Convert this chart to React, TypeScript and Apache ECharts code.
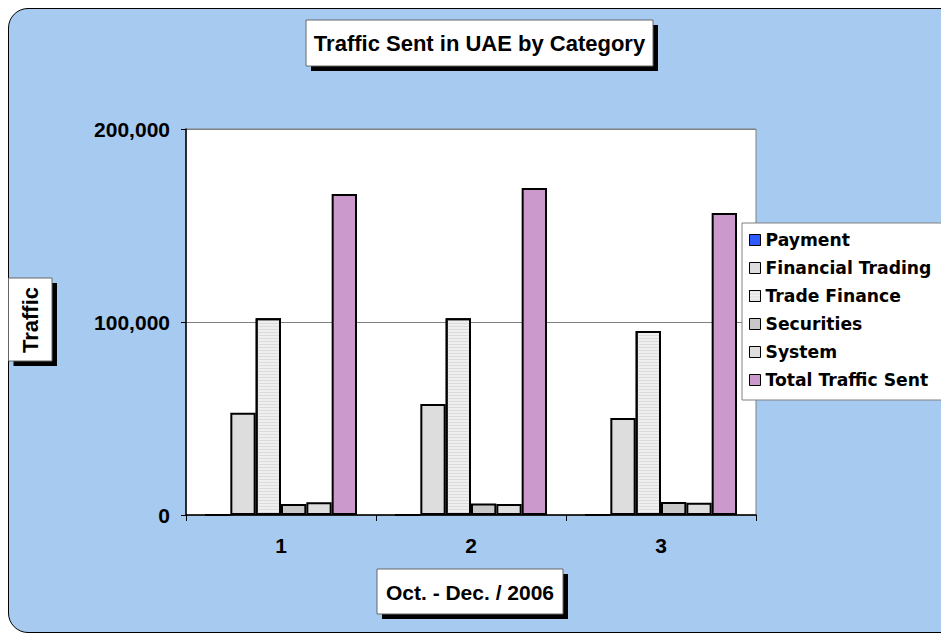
import React, { useEffect, useRef } from "react";
import * as echarts from "echarts";

const categories = ["1", "2", "3"];
const seriesNames = ["Payment", "Financial Trading", "Trade Finance", "Securities", "System", "Total Traffic Sent"];
const payment = [0, 0, 0];
const financialTrading = [53000, 57500, 50300];
const tradeFinance = [102000, 102000, 95300];
const securities = [5700, 6000, 6700];
const system = [6600, 5700, 6400];
const totalTrafficSent = [166300, 169400, 156500];
const seriesColors = ["#2E5BFF", "#DDDDDD", "#EFEFEF", "#C8C8C8", "#DEDEDE", "#CC99CC"];

const titleText = "Traffic Sent in UAE by Category";
const yAxisName = "Traffic";
const xAxisName = "Oct. - Dec. / 2006";

const FONT = "Arial, 'Liberation Sans', sans-serif";

export default function App() {
  const ref = useRef<HTMLDivElement>(null);
  useEffect(() => {
    document.documentElement.style.overflow = "hidden";
    if (!ref.current) return;
    const chart = echarts.init(ref.current, undefined, { renderer: "svg" });
    const allData = [payment, financialTrading, tradeFinance, securities, system, totalTrafficSent];
    const boxWithShadow = (x: number, y: number, w: number, h: number, z: number) => [
      { type: "rect", z, shape: { x: x + 5, y: y + 5, width: w, height: h }, style: { fill: "#000" } },
      { type: "rect", z: z + 1, shape: { x, y, width: w, height: h }, style: { fill: "#fff", stroke: "#666", lineWidth: 1 } },
    ];
    const label = (text: string, x: number, y: number, size: number, z: number, rotation = 0) => ({
      type: "text",
      z,
      x,
      y,
      rotation,
      style: {
        text,
        font: `bold ${size}px ${FONT}`,
        fill: "#000",
        align: "center",
        verticalAlign: "middle",
        textAlign: "center",
        textVerticalAlign: "middle",
      },
    });
    chart.setOption({
      animation: false,
      backgroundColor: "transparent",
      grid: {
        left: 178,
        top: 121,
        width: 570,
        height: 386,
        show: true,
        backgroundColor: "#fff",
        borderColor: "#808080",
        borderWidth: 1,
        containLabel: false,
      },
      legend: {
        orient: "vertical",
        left: 741,
        top: 223,
        padding: 0,
        itemWidth: 11,
        itemHeight: 11,
        itemGap: 10,
        icon: "rect",
        itemStyle: { borderColor: "#000", borderWidth: 1 },
        textStyle: { fontFamily: "'DejaVu Sans', sans-serif", fontWeight: "bold", fontSize: 17.2, lineHeight: 18, color: "#000" },
        data: seriesNames,
      },
      xAxis: {
        type: "category",
        data: categories,
        axisLine: { show: true, lineStyle: { color: "#000", width: 1.5 } },
        axisTick: { show: true, length: 6, lineStyle: { color: "#000" } },
        axisLabel: { fontFamily: FONT, fontWeight: "bold", fontSize: 21, color: "#000", margin: 20 },
        splitLine: { show: false },
      },
      yAxis: {
        type: "value",
        min: 0,
        max: 200000,
        interval: 100000,
        axisLine: { show: true, lineStyle: { color: "#000", width: 1.5 } },
        axisTick: { show: true, length: 5, lineStyle: { color: "#000" } },
        axisLabel: {
          fontFamily: FONT,
          fontWeight: "bold",
          fontSize: 21,
          color: "#000",
          margin: 16,
          formatter: (v: number) => v.toLocaleString("en-US"),
        },
        splitLine: { show: true, lineStyle: { color: "#808080", width: 1 } },
      },
      series: seriesNames.map((name, i) => ({
        name,
        type: "bar",
        data: allData[i],
        barGap: "0%",
        barCategoryGap: "20%",
        itemStyle: {
          color: seriesColors[i],
          borderColor: "#000",
          borderWidth: 2,
          decal:
            i === 2
              ? { symbol: "rect", symbolSize: 1, dashArrayX: [1, 0], dashArrayY: [1, 2], color: "rgba(200,200,200,0.5)", rotation: 0 }
              : undefined,
        },
      })),
      graphic: [
        // legend box
        { type: "rect", z: 3, shape: { x: 734, y: 215, width: 400, height: 177 }, style: { fill: "#fff", stroke: "#808080", lineWidth: 1 } },
        ...boxWithShadow(298, 12, 347, 46, 10),
        label(titleText, 471.5, 35.5, 22, 12),
        ...boxWithShadow(0.5, 270, 43.5, 83, 10),
        label(yAxisName, 22, 312, 22, 12, Math.PI / 2),
        ...boxWithShadow(369, 561, 186, 45, 10),
        label(xAxisName, 462, 584, 21, 12),
      ],
    });
    return () => chart.dispose();
  }, []);
  return (
    <div style={{ position: "fixed", left: 8, top: 8, width: 933, height: 627, overflow: "hidden" }}>
      <div
        style={{
          position: "absolute",
          left: 0,
          top: 0,
          width: 1100,
          height: 625,
          boxSizing: "border-box",
          border: "1.5px solid #000",
          borderRadius: 20,
          background: "#A6CAF0",
        }}
      />
      <div ref={ref} style={{ position: "absolute", left: 0, top: 0, width: 933, height: 627 }} />
    </div>
  );
}
